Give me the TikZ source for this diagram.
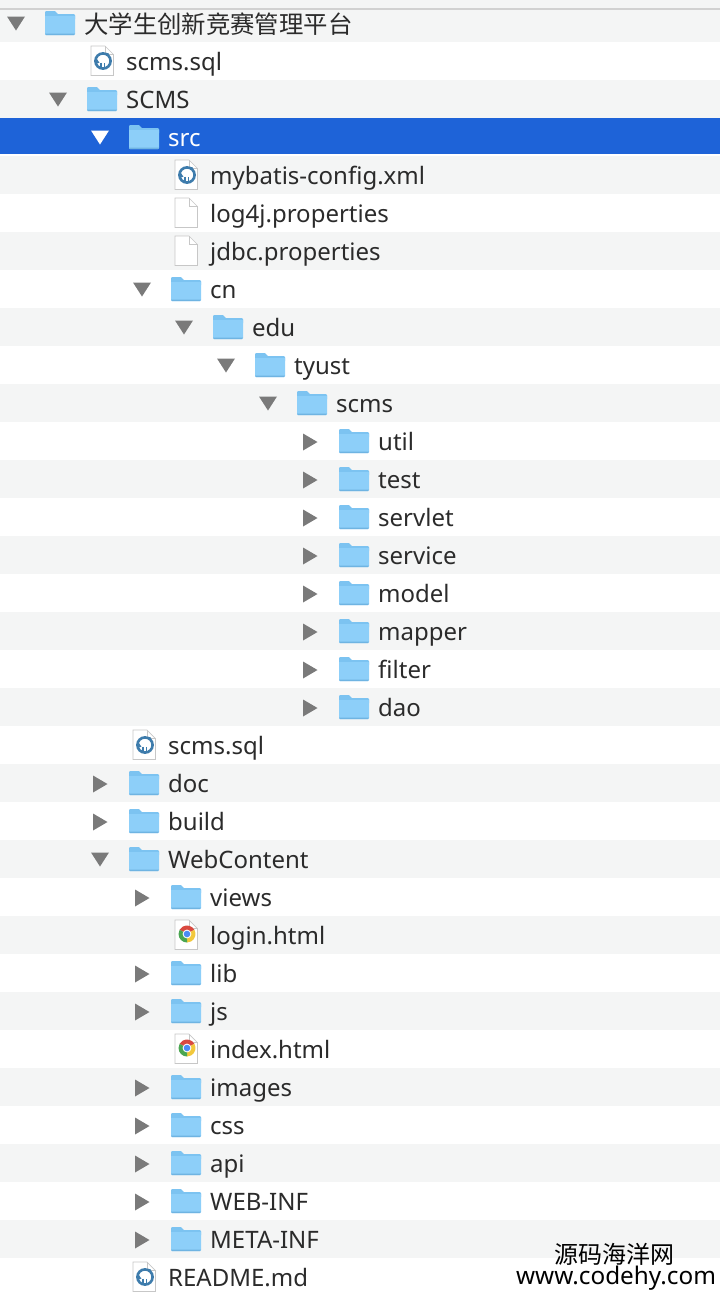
\documentclass[tikz,border=0pt]{standalone}
\usepackage{fontspec}
\setmainfont{Noto Sans}
\newfontfamily\cjkfont{Noto Sans CJK SC}
\definecolor{stripegray}{HTML}{F4F5F5}
\definecolor{selblue}{HTML}{1E63D8}
\definecolor{foldertab}{HTML}{7CC3F1}
\definecolor{folderbody}{HTML}{8DCFF9}
\definecolor{folderedge}{HTML}{6FB4E2}
\definecolor{sqlblue}{HTML}{3E7CAC}
\definecolor{labelink}{HTML}{2B2B2B}
\definecolor{chromered}{HTML}{D9493F}
\definecolor{chromeyellow}{HTML}{F2C83C}
\definecolor{chromegreen}{HTML}{4AA651}
\definecolor{chromeblue}{HTML}{4C8BF5}
\tikzset{
  rowtext/.style={anchor=base west, inner sep=0pt, text=labelink, font=\fontsize{24}{24}\selectfont},
  marktext/.style={anchor=base, inner sep=0pt, text=black, font=\fontsize{24}{24}\selectfont},
  arrowdown/.pic={\fill[pic actions] (-9,-7.5) -- (9,-7.5) -- (0,6.5) -- cycle;},
  arrowright/.pic={\fill[pic actions] (-7,-8.5) -- (7.5,0) -- (-7,8.5) -- cycle;},
  foldericon/.pic={
    \fill[foldertab] (0,-11) -- (0,-12) -- (1,-13) -- (10,-13) -- (13,-10) -- (29,-10) -- (30,-9) -- (30,-5) -- (0,-5) -- cycle;
    \fill[folderbody] (0,-8) -- (30,-8) -- (30,10) -- (29,11) -- (1,11) -- (0,10) -- cycle;
    \fill[folderedge] (0,9.5) -- (30,9.5) -- (29,11) -- (1,11) -- cycle;
  },
  pageicon/.pic={
    \draw[black!22, fill=white, line width=.7pt] (0,-16) -- (14,-16) -- (22.5,-7.5) -- (22.5,13.5) -- (0,13.5) -- cycle;
    \draw[black!22, line width=.7pt] (14,-16) -- (14,-7.5) -- (22.5,-7.5);
  },
  sqlicon/.pic={
    \draw[sqlblue, line width=2.6pt] (12,-1) circle (7.6);
    \draw[sqlblue, line width=1.2pt] (10,0.5) -- (10,4.5) (13.5,1) -- (13.5,4.5);
    \fill[sqlblue] (6,-3) .. controls (7,-1) and (8,0) .. (8.5,0.5) -- (6,1.5) -- cycle;
    \fill[sqlblue] (14.5,-9) -- (17.5,-9) -- (17.5,-6) -- cycle;
  },
  chromeicon/.pic={
    \fill[chromered] (12,-2) -- ++(-30:8.5) arc [start angle=-30, end angle=-150, radius=8.5] -- cycle;
    \fill[chromeyellow] (12,-2) -- ++(-30:8.5) arc [start angle=-30, end angle=90, radius=8.5] -- cycle;
    \fill[chromegreen] (12,-2) -- ++(90:8.5) arc [start angle=90, end angle=210, radius=8.5] -- cycle;
    \fill[white] (12,-2) circle (4.4);
    \fill[chromeblue] (12,-2) circle (3.3);
  }
}

\begin{document}
\begin{tikzpicture}[x=1pt, y=-1pt]
\useasboundingbox (0,0) rectangle (720,1296);
% stripes
\fill[stripegray] (0,0) rectangle (720,42);
\fill[black!18] (0,8) rectangle (720,9.5);
\foreach \r in {2,4,...,32}
  \fill[stripegray] (0,4+38*\r) rectangle (720,42+38*\r);
\fill[white] (0,118) rectangle (720,156);
\fill[stripegray] (0,156) rectangle (720,194);
\fill[selblue] (0,118) rectangle (720,154);

% rows
\path[fill=black!52] (16,24) pic {arrowdown}; \path (45,24) pic {foldericon};
\node[rowtext, font=\cjkfont\fontsize{24.4}{24}\selectfont] (root) at (84,33) {大学生创新竞赛管理平台};
\path (91,62) pic {pageicon} (91,62) pic {sqlicon};
\node[rowtext] (rootsql) at (126,70) {scms.sql};
\path[fill=black!52] (58,100) pic {arrowdown}; \path (87,100) pic {foldericon};
\node[rowtext] (scmsdir) at (126,108) {SCMS};
\path[fill=white] (100,138) pic {arrowdown}; \path (129,138) pic {foldericon};
\node[rowtext, text=white] (src) at (168,146) {src};
\path (175,176) pic {pageicon} (175,176) pic {sqlicon};
\node[rowtext] (mybatis) at (210,184) {mybatis-config.xml};
\path (175,214) pic {pageicon};
\node[rowtext] (logprop) at (210,222) {log4j.properties};
\path (175,252) pic {pageicon};
\node[rowtext] (jdbcprop) at (210,260) {jdbc.properties};
\path[fill=black!52] (142,290) pic {arrowdown}; \path (171,290) pic {foldericon};
\node[rowtext] (cn) at (210,298) {cn};
\path[fill=black!52] (184,328) pic {arrowdown}; \path (213,328) pic {foldericon};
\node[rowtext] (edu) at (252,336) {edu};
\path[fill=black!52] (226,366) pic {arrowdown}; \path (255,366) pic {foldericon};
\node[rowtext] (tyust) at (294,374) {tyust};
\path[fill=black!52] (268,404) pic {arrowdown}; \path (297,404) pic {foldericon};
\node[rowtext] (scmspkg) at (336,412) {scms};
\path[fill=black!52] (310,442) pic {arrowright}; \path (339,442) pic {foldericon};
\node[rowtext] (util) at (378,450) {util};
\path[fill=black!52] (310,480) pic {arrowright}; \path (339,480) pic {foldericon};
\node[rowtext] (test) at (378,488) {test};
\path[fill=black!52] (310,518) pic {arrowright}; \path (339,518) pic {foldericon};
\node[rowtext] (servlet) at (378,526) {servlet};
\path[fill=black!52] (310,556) pic {arrowright}; \path (339,556) pic {foldericon};
\node[rowtext] (service) at (378,564) {service};
\path[fill=black!52] (310,594) pic {arrowright}; \path (339,594) pic {foldericon};
\node[rowtext] (model) at (378,602) {model};
\path[fill=black!52] (310,632) pic {arrowright}; \path (339,632) pic {foldericon};
\node[rowtext] (mapper) at (378,640) {mapper};
\path[fill=black!52] (310,670) pic {arrowright}; \path (339,670) pic {foldericon};
\node[rowtext] (filter) at (378,678) {filter};
\path[fill=black!52] (310,708) pic {arrowright}; \path (339,708) pic {foldericon};
\node[rowtext] (dao) at (378,716) {dao};
\path (133,746) pic {pageicon} (133,746) pic {sqlicon};
\node[rowtext] (srcsql) at (168,754) {scms.sql};
\path[fill=black!52] (100,784) pic {arrowright}; \path (129,784) pic {foldericon};
\node[rowtext] (doc) at (168,792) {doc};
\path[fill=black!52] (100,822) pic {arrowright}; \path (129,822) pic {foldericon};
\node[rowtext] (build) at (168,830) {build};
\path[fill=black!52] (100,860) pic {arrowdown}; \path (129,860) pic {foldericon};
\node[rowtext] (webcontent) at (168,868) {WebContent};
\path[fill=black!52] (142,898) pic {arrowright}; \path (171,898) pic {foldericon};
\node[rowtext] (views) at (210,906) {views};
\path (175,936) pic {pageicon} (175,936) pic {chromeicon};
\node[rowtext] (login) at (210,944) {login.html};
\path[fill=black!52] (142,974) pic {arrowright}; \path (171,974) pic {foldericon};
\node[rowtext] (lib) at (210,982) {lib};
\path[fill=black!52] (142,1012) pic {arrowright}; \path (171,1012) pic {foldericon};
\node[rowtext] (js) at (210,1020) {js};
\path (175,1050) pic {pageicon} (175,1050) pic {chromeicon};
\node[rowtext] (index) at (210,1058) {index.html};
\path[fill=black!52] (142,1088) pic {arrowright}; \path (171,1088) pic {foldericon};
\node[rowtext] (images) at (210,1096) {images};
\path[fill=black!52] (142,1126) pic {arrowright}; \path (171,1126) pic {foldericon};
\node[rowtext] (css) at (210,1134) {css};
\path[fill=black!52] (142,1164) pic {arrowright}; \path (171,1164) pic {foldericon};
\node[rowtext] (api) at (210,1172) {api};
\path[fill=black!52] (142,1202) pic {arrowright}; \path (171,1202) pic {foldericon};
\node[rowtext] (webinf) at (210,1210) {WEB-INF};
\path[fill=black!52] (142,1240) pic {arrowright}; \path (171,1240) pic {foldericon};
\node[rowtext] (metainf) at (210,1248) {META-INF};
\path (133,1278) pic {pageicon} (133,1278) pic {sqlicon};
\node[rowtext] (readme) at (168,1286) {README.md};

% watermark
\node[marktext, font=\cjkfont\fontsize{24}{24}\selectfont] (markcn) at (614,1263) {源码海洋网};
\node[marktext, font=\fontsize{24.3}{24}\selectfont] (markurl) at (616,1284) {www.codehy.com};
\end{tikzpicture}
\end{document}
